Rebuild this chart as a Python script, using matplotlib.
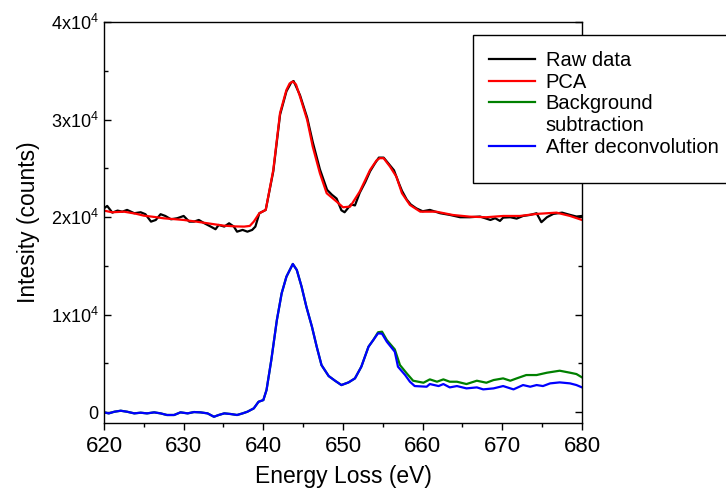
import numpy as np
import matplotlib
matplotlib.use("Agg")
import matplotlib.pyplot as plt
from matplotlib.lines import Line2D
from matplotlib.patches import Rectangle
from matplotlib.ticker import MultipleLocator, FixedLocator

plt.rcParams['font.family'] = ['Liberation Sans', 'DejaVu Sans']
plt.rcParams['mathtext.fontset'] = 'custom'
plt.rcParams['mathtext.rm'] = 'Liberation Sans'
plt.rcParams['mathtext.it'] = 'Liberation Sans:italic'

# raw spectrum (black)
raw_e = [620.0, 620.4, 621.05, 621.7, 622.3, 622.9, 623.8, 624.6, 625.2, 625.9,
         626.5, 627.1, 627.7, 628.4, 629.2, 630.0, 630.7, 631.3, 631.9, 632.6,
         633.4, 634.0, 634.4, 635.1, 635.7, 636.3, 636.7, 637.4, 638.0, 638.6,
         639.0, 639.5, 640.3, 641.25, 642.1, 642.9, 643.5, 643.8, 644.6, 645.5,
         646.2, 647.1, 648.0, 648.6, 649.2, 649.8, 650.2, 650.6, 651.0, 651.5,
         652.1, 652.8, 653.4, 654.0, 654.5, 655.1, 655.7, 656.4, 657.0, 657.4,
         658.0, 658.5, 659.2, 660.0, 660.9, 662.2, 663.4, 664.7, 665.9, 667.2,
         668.5, 669.1, 669.7, 670.1, 671.0, 671.8, 672.6, 673.5, 674.3, 674.9,
         675.6, 676.4, 677.5, 678.5, 679.3, 680.0]
raw_v = [20900, 21150, 20460, 20670, 20560, 20740, 20400, 20500, 20300, 19540,
         19710, 20300, 20120, 19780, 19890, 20120, 19540, 19540, 19710, 19370,
         19030, 18760, 19200, 19030, 19370, 19030, 18510, 18690, 18510, 18690,
         19030, 20400, 20740, 24700, 30500, 32900, 33800, 33950, 32500, 30200,
         27700, 24900, 22800, 22300, 21900, 20700, 20500, 20900, 21300, 21200,
         22500, 23600, 24700, 25500, 26100, 26100, 25500, 24800, 23500, 22700,
         21800, 21300, 20900, 20600, 20740, 20400, 20230, 19990, 19990, 20060,
         19710, 19890, 19610, 19950, 19990, 19850, 20120, 20230, 20400, 19480,
         19990, 20330, 20460, 20230, 20060, 20120]

# PCA reconstruction (red)
pca_e = [620.0, 621.0, 622.5, 624.0, 625.0, 626.5, 627.5, 629.0, 630.0, 631.5,
         632.5, 634.0, 635.0, 636.5, 637.6, 638.3, 638.8, 639.5, 640.3, 641.25,
         642.1, 642.9, 643.3, 643.7, 644.1, 644.6, 645.5, 646.2, 647.1, 647.95,
         649.2, 650.0, 650.9, 652.1, 653.4, 654.2, 654.6, 655.1, 655.9, 656.7,
         657.4, 658.4, 659.7, 661.7, 663.8, 665.9, 668.0, 670.1, 672.2, 674.3,
         676.8, 678.5, 680.0]
pca_v = [20670, 20500, 20560, 20350, 20150, 20000, 19880, 19780, 19710, 19550,
         19430, 19250, 19130, 19050, 19030, 19100, 19540, 20400, 20740, 24840,
         30680, 33040, 33700, 33900, 33600, 32360, 29970, 27230, 24500, 22450,
         21590, 21010, 21080, 22620, 24840, 25800, 26040, 26040, 25180, 24150,
         22450, 21250, 20560, 20560, 20220, 20050, 19990, 20120, 20120, 20330,
         20460, 20120, 19710]

# after deconvolution (blue)
deconv_e = [620.0, 620.6, 621.3, 622.1, 622.9, 623.8, 624.6, 625.4, 626.3, 627.1,
            627.9, 628.8, 629.6, 630.5, 631.3, 632.1, 633.0, 633.8, 634.4, 635.1,
            635.9, 636.7, 637.4, 638.0, 638.8, 639.4, 640.0, 640.4, 641.0, 641.7,
            642.3, 642.9, 643.7, 644.2, 644.8, 645.4, 646.1, 646.7, 647.3, 648.2,
            649.0, 649.8, 650.7, 651.5, 652.3, 653.2, 653.8, 654.4, 654.9, 655.5,
            656.5, 656.9, 657.8, 658.4, 659.0, 660.5, 660.9, 662.0, 662.6, 663.4,
            664.3, 665.5, 666.8, 667.6, 668.9, 670.1, 671.4, 672.6, 673.5, 674.3,
            675.1, 676.0, 677.2, 678.5, 679.3, 680.0]
deconv_v = [-10, -113, 55, 157, 55, -113, -45, -113, -10, -113,
            -280, -280, -10, -113, 22, -10, -113, -460, -280, -113,
            -180, -280, -113, 55, 400, 1077, 1250, 2277, 5353, 9456,
            12193, 13900, 15199, 14584, 12875, 10823, 8770, 6718, 4838, 3713,
            3233, 2790, 3063, 3473, 4669, 6718, 7403, 8092, 8050, 7230,
            6206, 4669, 3815, 3131, 2687, 2619, 2892, 2687, 2892, 2550,
            2687, 2448, 2550, 2346, 2448, 2687, 2346, 2790, 2619, 2790,
            2687, 2961, 3063, 2961, 2790, 2550]

# background subtraction (green) - same as blue below 654 eV
bg_tail_e = [654.4, 654.9, 655.5, 656.5, 657.15, 658.0, 658.8, 660.1, 660.9, 661.8,
             662.6, 663.4, 664.3, 665.5, 666.8, 668.0, 668.9, 670.1, 671.0, 671.8,
             673.0, 674.3, 675.6, 677.2, 678.5, 679.3, 680.0]
bg_tail_v = [8200, 8260, 7403, 6445, 4838, 3986, 3233, 3028, 3371, 3131,
             3371, 3131, 3131, 2892, 3233, 3028, 3302, 3473, 3233, 3473,
             3815, 3815, 4054, 4259, 4054, 3918, 3576]

ytick_vals = [0, 10000, 20000, 30000, 40000]
ytick_labels = ['0', '1x10$^4$', '2x10$^4$', '3x10$^4$', '4x10$^4$']

head = [i for i, e in enumerate(deconv_e) if e < bg_tail_e[0]]
bg_e = [deconv_e[i] for i in head] + bg_tail_e
bg_v = [deconv_v[i] for i in head] + bg_tail_v

W, H = 726, 495
fig = plt.figure(figsize=(W / 100, H / 100), dpi=100)
ax = fig.add_axes([104 / W, 1 - 423 / H, (582 - 104) / W, (423 - 22) / H])

lw = 1.6
l_raw, = ax.plot(raw_e, raw_v, color='black', lw=lw)
l_pca, = ax.plot(pca_e, pca_v, color='#ff0000', lw=lw)
l_bg, = ax.plot(bg_e, bg_v, color='#008000', lw=lw)
l_dec, = ax.plot(deconv_e, deconv_v, color='#0000ff', lw=lw)

ax.set_xlim(620, 680)
ax.set_ylim(-1100, 40000)
ax.xaxis.set_major_locator(MultipleLocator(10))
ax.xaxis.set_minor_locator(MultipleLocator(5))
ax.yaxis.set_major_locator(FixedLocator(ytick_vals))
ax.set_yticklabels(ytick_labels)
ax.yaxis.set_minor_locator(MultipleLocator(5000))

ax.tick_params(axis='x', which='major', direction='out', length=5, width=1,
               labelsize=16, pad=4, top=False)
ax.tick_params(axis='x', which='minor', direction='out', length=3, width=1, top=False)
ax.tick_params(axis='y', which='major', direction='in', length=5, width=1,
               labelsize=13, pad=4, right=True)
ax.tick_params(axis='y', which='minor', direction='in', length=3, width=1, right=True)
for s in ax.spines.values():
    s.set_linewidth(1)

ax.set_xlabel('Energy Loss (eV)', fontsize=16.5, labelpad=6)
ax.set_ylabel('Intesity (counts)', fontsize=16.5, labelpad=8)

# legend box runs past the right edge of the figure, as in the original
box = Rectangle((473 / W, 1 - 183 / H), 270 / W, (183 - 35) / H,
                transform=fig.transFigure, facecolor='white', edgecolor='black',
                lw=1, clip_on=False, zorder=4.5)
ax.add_patch(box)

# second line of "Background subtraction" sits under its label, without a handle
blank = Line2D([], [], color='none')
leg = ax.legend([l_raw, l_pca, l_bg, blank, l_dec],
                ['Raw data', 'PCA', 'Background', 'subtraction', 'After deconvolution'],
                loc='upper left', bbox_to_anchor=(473 / W, 1 - 35 / H),
                bbox_transform=fig.transFigure, borderaxespad=0, frameon=False,
                fontsize=14.5, handlelength=2.3, handletextpad=0.5,
                labelspacing=0.13, borderpad=0.8)
leg.set_zorder(5)

fig.savefig('out.png', dpi=100)
